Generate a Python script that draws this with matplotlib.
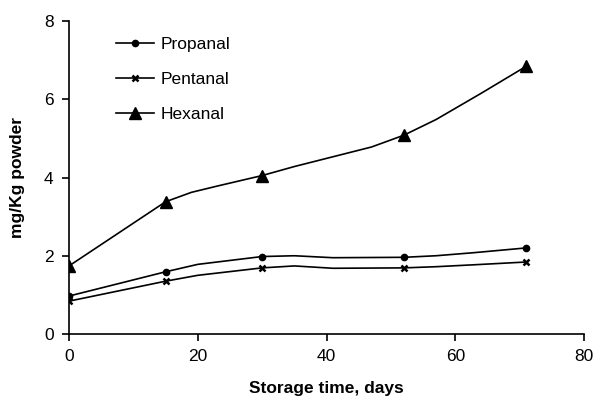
import matplotlib.pyplot as plt

plt.rcParams['font.family'] = ['Liberation Sans', 'DejaVu Sans']

# Measured storage days (marker positions)
marker_days = [0, 15, 30, 52, 71]

# Curve points (days, mg/Kg powder)
propanal_days = [0, 15, 20, 30, 35, 41, 52, 57, 63, 71]
propanal_vals = [0.97, 1.59, 1.78, 1.98, 2.00, 1.95, 1.96, 2.00, 2.08, 2.20]

pentanal_days = [0, 15, 20, 30, 35, 41, 52, 57, 63, 71]
pentanal_vals = [0.84, 1.35, 1.50, 1.69, 1.74, 1.68, 1.69, 1.72, 1.77, 1.84]

hexanal_days = [0, 15, 19, 23, 30, 35, 41, 47, 52, 57, 64, 71]
hexanal_vals = [1.74, 3.38, 3.62, 3.78, 4.05, 4.28, 4.53, 4.78, 5.08, 5.48, 6.15, 6.84]

x_ticks = [0, 20, 40, 60, 80]
y_ticks = [0, 2, 4, 6, 8]


def marker_index(days):
    return [days.index(d) for d in marker_days]


fig = plt.figure(figsize=(5.98, 4.03), dpi=100)
ax = fig.add_axes([0.1154, 0.1712, 0.8612, 0.7767])

ax.plot(propanal_days, propanal_vals, color='black', lw=1.2, marker='o', ms=4.5,
        markevery=marker_index(propanal_days), label='Propanal')
ax.plot(pentanal_days, pentanal_vals, color='black', lw=1.2, marker='x', ms=5, mew=1.8,
        markevery=marker_index(pentanal_days), label='Pentanal')
ax.plot(hexanal_days, hexanal_vals, color='black', lw=1.2, marker='^', ms=9,
        markevery=marker_index(hexanal_days), label='Hexanal')

ax.set_xlim(0, 80)
ax.set_ylim(0, 8)
ax.set_xticks(x_ticks)
ax.set_yticks(y_ticks)
ax.spines['top'].set_visible(False)
ax.spines['right'].set_visible(False)
ax.spines['left'].set_linewidth(1.2)
ax.spines['bottom'].set_linewidth(1.2)
ax.tick_params(direction='out', length=5, width=1.2, labelsize=12.5, pad=6)

ax.set_xlabel('Storage time, days', fontsize=12.5, fontweight='bold', labelpad=12)
ax.set_ylabel('mg/Kg powder', fontsize=12.5, fontweight='bold', labelpad=14)

ax.legend(loc='upper left', bbox_to_anchor=(0.06, 1.0), frameon=False,
          fontsize=12.5, handlelength=2.2, labelspacing=1.15, handletextpad=0.4)

fig.savefig('out.png', dpi=100)
